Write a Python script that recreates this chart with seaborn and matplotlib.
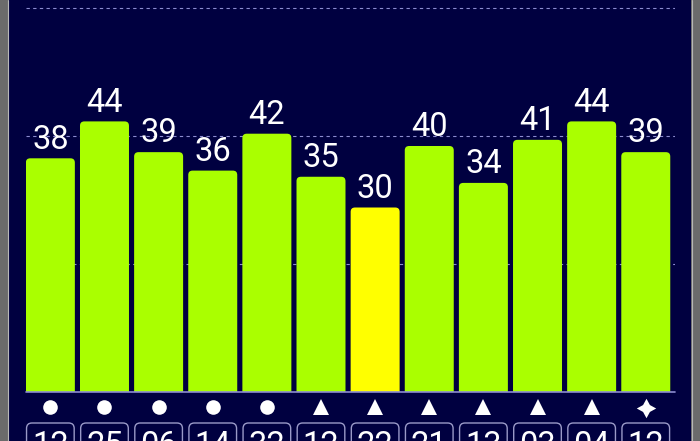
import numpy as np
import matplotlib
matplotlib.use("Agg")
import matplotlib.pyplot as plt
import seaborn as sns
from matplotlib.patches import FancyBboxPatch, Rectangle
from matplotlib.lines import Line2D

# satellite signal strengths (dB-Hz)
sat_ids = ["12", "25", "06", "14", "32", "12", "22", "21", "13", "03", "04", "12"]
snr = [38, 44, 39, 36, 42, 35, 30, 40, 34, 41, 44, 39]
constellation = ["o", "o", "o", "o", "o", "^", "^", "^", "^", "^", "^", "star"]
bar_colors = ["#aaff00"] * 6 + ["#ffff00"] + ["#aaff00"] * 5
grid_levels = [20.8, 41.6, 62.4]

NAVY = "#000040"
GRID = "#8c8cd0"
W, H = 700, 441

sns.set_theme(style="white")
plt.rcParams["font.family"] = ["Roboto", "DejaVu Sans"]

fig = plt.figure(figsize=(W / 100, H / 100), dpi=100)
fig.patch.set_facecolor("#6b6b6b")
fig.add_artist(Rectangle((8 / W, 0), 683 / W, 1, transform=fig.transFigure,
                         facecolor=NAVY, edgecolor="none", zorder=0))
for xl in (7.5, 691.5):
    fig.add_artist(Line2D([xl / W, xl / W], [0, 1], transform=fig.transFigure,
                          color="#b8b8b8", lw=0.8, zorder=0))

# plot area in pixels: x 26..675, y 0..392 (baseline)
ax = fig.add_axes([26 / W, (H - 392) / H, 649 / W, 392 / H])
ax.set_facecolor("none")

idx = np.arange(len(snr))
sns.barplot(x=idx, y=snr, hue=idx, palette=bar_colors, legend=False,
            width=0.905, saturation=1, ax=ax, zorder=2)
ax.set_xlim(-0.45, 11.54)
ax.set_ylim(0, 392 / 6.15)
ax.axis("off")

px_x = 649 / (11.54 + 0.45)
px_y = 6.15
aspect = px_x / px_y


def py(pix):
    # screen pixel row -> data y
    return (392 - pix) / px_y


# rounded tops for the bars
for p in list(ax.patches):
    x0, w, h = p.get_x(), p.get_width(), p.get_height()
    fc = p.get_facecolor()
    p.remove()
    ax.add_patch(FancyBboxPatch((x0, -3), w, h + 3,
                                boxstyle="round,pad=0,rounding_size=0.08",
                                mutation_aspect=aspect, facecolor=fc,
                                edgecolor="none", zorder=2))

for g in grid_levels:
    ax.axhline(g, color=GRID, lw=0.8, ls=(0, (3, 3)), zorder=1)
ax.axhline(0, color=GRID, lw=1.2, zorder=3, clip_on=False)

for i, v in enumerate(snr):
    ax.annotate(str(v), (i, v), xytext=(0, 7), textcoords="offset points",
                ha="center", va="baseline", color="white", fontsize=23.5)

for i, m in enumerate(constellation):
    if m == "star":
        ax.plot(i, py(408), marker=(4, 1, 0), color="white", ms=14,
                mec="white", mew=0, clip_on=False)
    else:
        ax.plot(i, py(407), marker=m, color="white",
                ms=10.5 if m == "o" else 11.5, mec="white", mew=0, clip_on=False)

for i, s in enumerate(sat_ids):
    ax.add_patch(FancyBboxPatch((i - 0.44, py(460)), 0.88, py(423) - py(460),
                                boxstyle="round,pad=0,rounding_size=0.1",
                                mutation_aspect=aspect, facecolor="none",
                                edgecolor="#9a9ac8", lw=1, clip_on=False,
                                zorder=3))
    ax.text(i, py(455), s, ha="center", va="baseline", color="white",
            fontsize=23.5, clip_on=False)

fig.savefig("out.png", dpi=100, facecolor=fig.get_facecolor())
